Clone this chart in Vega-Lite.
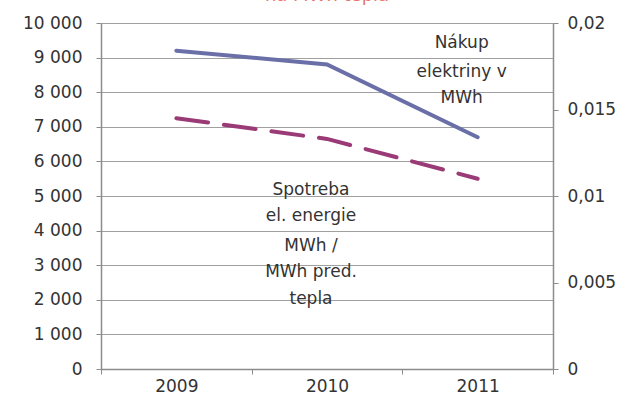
{
  "$schema": "https://vega.github.io/schema/vega-lite/v6.json",
  "width": 452,
  "height": 346,
  "autosize": {"type": "none"},
  "padding": {"left": 101, "top": 23, "right": 77, "bottom": 35},
  "background": "white",
  "title": {
    "text": "na MWh tepla",
    "color": "#e8766b",
    "fontSize": 18,
    "font": "DejaVu Sans",
    "fontWeight": "normal",
    "anchor": "middle",
    "baseline": "bottom",
    "offset": 0,
    "dy": 9
  },
  "config": {
    "view": {"stroke": null},
    "axis": {
      "labelFont": "DejaVu Sans",
      "labelFontSize": 17,
      "labelColor": "#333333",
      "domainColor": "#8c8c8c",
      "tickColor": "#8c8c8c",
      "gridColor": "#a0a0a0",
      "titleFont": "DejaVu Sans"
    }
  },
  "datasets": {
    "series": [
      {"year": "2009", "nakup": 9200, "spotreba": 0.0145},
      {"year": "2010", "nakup": 8800, "spotreba": 0.0133},
      {"year": "2011", "nakup": 6700, "spotreba": 0.0110}
    ],
    "notes": [
      {"year": "2011", "pos": 9422, "label": "Nákup"},
      {"year": "2011", "pos": 8584, "label": "elektriny v"},
      {"year": "2011", "pos": 7832, "label": "MWh"},
      {"year": "2010", "pos": 5173, "label": "Spotreba"},
      {"year": "2010", "pos": 4422, "label": "el. energie"},
      {"year": "2010", "pos": 3555, "label": "MWh /"},
      {"year": "2010", "pos": 2803, "label": "MWh pred."},
      {"year": "2010", "pos": 2023, "label": "tepla"}
    ]
  },
  "encoding": {
    "x": {
      "field": "year",
      "type": "ordinal",
      "bandPosition": 0.5,
      "scale": {"type": "band", "paddingInner": 0, "paddingOuter": 0},
      "axis": {
        "title": null,
        "labelAngle": 0,
        "tickBand": "extent",
        "tickSize": 5,
        "labelPadding": 4,
        "domainWidth": 1.5
      }
    }
  },
  "layer": [
    {
      "data": {"name": "series"},
      "mark": {"type": "line", "color": "#6a6fa8", "strokeWidth": 4, "strokeCap": "round"},
      "encoding": {
        "y": {
          "field": "nakup",
          "type": "quantitative",
          "scale": {"domain": [0, 10000], "nice": false},
          "axis": {
            "title": null,
            "values": [0, 1000, 2000, 3000, 4000, 5000, 6000, 7000, 8000, 9000, 10000],
            "labelExpr": "replace(format(datum.value, ','), ',', ' ')",
            "grid": true,
            "tickSize": 5,
            "labelPadding": 14,
            "domainWidth": 1.5
          }
        }
      }
    },
    {
      "data": {"name": "notes"},
      "mark": {"type": "text", "font": "DejaVu Sans", "fontSize": 17, "color": "#333333", "baseline": "middle", "align": "center", "dx": -16},
      "encoding": {
        "y": {"field": "pos", "type": "quantitative", "scale": {"domain": [0, 10000], "nice": false}, "axis": null},
        "text": {"field": "label"}
      }
    },
    {
      "data": {"name": "series"},
      "mark": {"type": "line", "color": "#9a3a76", "strokeWidth": 4, "strokeCap": "round", "strokeDash": [32, 16]},
      "encoding": {
        "y": {
          "field": "spotreba",
          "type": "quantitative",
          "scale": {"domain": [0, 0.02], "nice": false},
          "axis": {
            "orient": "right",
            "title": null,
            "values": [0, 0.005, 0.01, 0.015, 0.02],
            "labelExpr": "replace(format(datum.value, '~g'), '.', ',')",
            "grid": false,
            "tickSize": 5,
            "labelPadding": 9,
            "domainWidth": 1.5
          }
        }
      }
    }
  ],
  "resolve": {"scale": {"y": "independent"}, "axis": {"y": "independent"}}
}
